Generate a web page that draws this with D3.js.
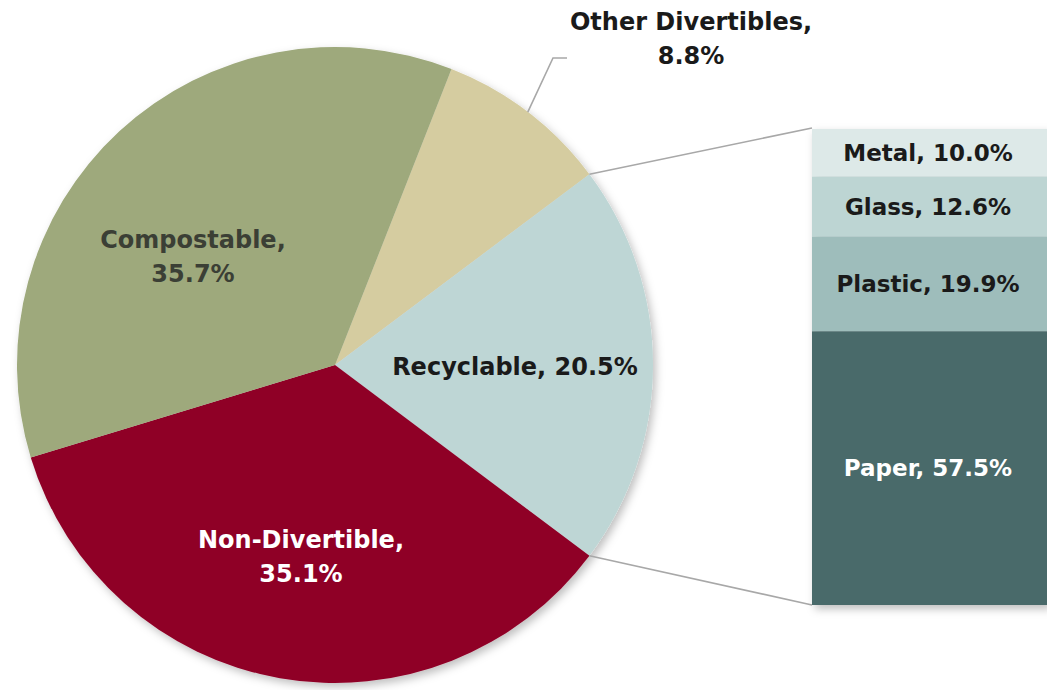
<!DOCTYPE html>
<html>
<head>
<meta charset="utf-8">
<script src="https://cdn.jsdelivr.net/npm/d3@7"></script>
<style>
  html, body { margin: 0; padding: 0; background: #fff; }
  svg { display: block; }
  text { font-family: "DejaVu Sans", sans-serif; font-weight: 700; }
</style>
</head>
<body>
<svg id="chart" width="1047" height="690"></svg>
<script>
// Waste stream composition (percent)
const categories = ["Other Divertibles", "Recyclable", "Non-Divertible", "Compostable"];
const shares = [8.8, 20.5, 35.1, 35.7];
const sliceColors = ["#d5cca0", "#bed6d5", "#8f0028", "#9ea97c"];

// Breakdown of the recyclable fraction (percent)
const subCategories = ["Metal", "Glass", "Plastic", "Paper"];
const subShares = [10.0, 12.6, 19.9, 57.5];
const subColors = ["#dde9e8", "#bdd5d3", "#9ebdbb", "#496b6b"];

const svg = d3.select("#chart");

const defs = svg.append("defs");
const shadow = defs.append("filter").attr("id", "soft").attr("x", "-10%").attr("y", "-10%").attr("width", "130%").attr("height", "130%");
shadow.append("feDropShadow").attr("dx", 3).attr("dy", 4).attr("stdDeviation", 4).attr("flood-color", "#000").attr("flood-opacity", 0.25);

const cx = 335, cy = 365, R = 318;
const total = d3.sum(shares);
// Rotate so the recyclable slice is centred on the 3 o'clock direction
const startAngle = Math.PI / 2 - ((shares[0] + shares[1] / 2) / total) * 2 * Math.PI;

const pie = d3.pie().sort(null).value(d => d.v)
  .startAngle(startAngle).endAngle(startAngle + 2 * Math.PI);
const arcs = pie(categories.map((c, i) => ({ c, v: shares[i], color: sliceColors[i] })));
const arc = d3.arc().innerRadius(0).outerRadius(R);

const g = svg.append("g").attr("transform", `translate(${cx},${cy})`);
g.append("g").attr("filter", "url(#soft)")
  .selectAll("path").data(arcs).join("path")
  .attr("d", arc).attr("fill", d => d.data.color);

// Stacked bar for the recyclable breakdown
const barX = 812, barW = 236, barTop = 129, barBottom = 605;
const y = d3.scaleLinear().domain([0, d3.sum(subShares)]).range([barTop, barBottom]);
let acc = 0;
const stack = subCategories.map((c, i) => {
  const s = { c, v: subShares[i], color: subColors[i], y0: acc, y1: acc + subShares[i] };
  acc += subShares[i];
  return s;
});

// Connector lines between the recyclable slice and the bar
const rec = arcs[1];
const pt = a => [cx + R * Math.sin(a), cy - R * Math.cos(a)];
const pA = pt(rec.startAngle), pB = pt(rec.endAngle);
svg.append("line").attr("x1", pA[0]).attr("y1", pA[1]).attr("x2", barX).attr("y2", y(0) - 1)
  .attr("stroke", "#a8a8a8").attr("stroke-width", 1.6);
svg.append("line").attr("x1", pB[0]).attr("y1", pB[1]).attr("x2", barX).attr("y2", y(acc))
  .attr("stroke", "#a8a8a8").attr("stroke-width", 1.6);

const bar = svg.append("g").attr("filter", "url(#soft)");
bar.selectAll("rect").data(stack).join("rect")
  .attr("x", barX).attr("width", barW)
  .attr("y", d => y(d.y0)).attr("height", d => y(d.y1) - y(d.y0))
  .attr("fill", d => d.color);

svg.append("g").selectAll("text").data(stack).join("text")
  .attr("x", barX + barW / 2 - 2)
  .attr("y", d => (y(d.y0) + y(d.y1)) / 2 + 8)
  .attr("text-anchor", "middle")
  .attr("font-size", 23)
  .attr("fill", d => d.c === "Paper" ? "#ffffff" : "#1a1a1a")
  .text(d => `${d.c}, ${d.v.toFixed(1)}%`);

// Leader for the small slice
const other = arcs[0];
const oa = (other.startAngle + other.endAngle) / 2;
const pO = pt(oa);
svg.append("polyline")
  .attr("points", [pO, [553, 58], [567, 58]].map(p => p.join(",")).join(" "))
  .attr("fill", "none").attr("stroke", "#a8a8a8").attr("stroke-width", 1.6);

// Slice labels
const labels = [
  { lines: [`${categories[0]},`, `${shares[0].toFixed(1)}%`], x: 691, y: 30, color: "#1a1a1a" },
  { lines: [`${categories[1]}, ${shares[1].toFixed(1)}%`], x: 515, y: 375, color: "#1a1a1a" },
  { lines: [`${categories[2]},`, `${shares[2].toFixed(1)}%`], x: 301, y: 548, color: "#ffffff" },
  { lines: [`${categories[3]},`, `${shares[3].toFixed(1)}%`], x: 193, y: 248, color: "#3b3f35" }
];
labels.forEach(l => {
  const t = svg.append("text").attr("text-anchor", "middle")
    .attr("font-size", 24).attr("fill", l.color);
  l.lines.forEach((s, i) => t.append("tspan").attr("x", l.x).attr("y", l.y + i * 34).text(s));
});
</script>
</body>
</html>
